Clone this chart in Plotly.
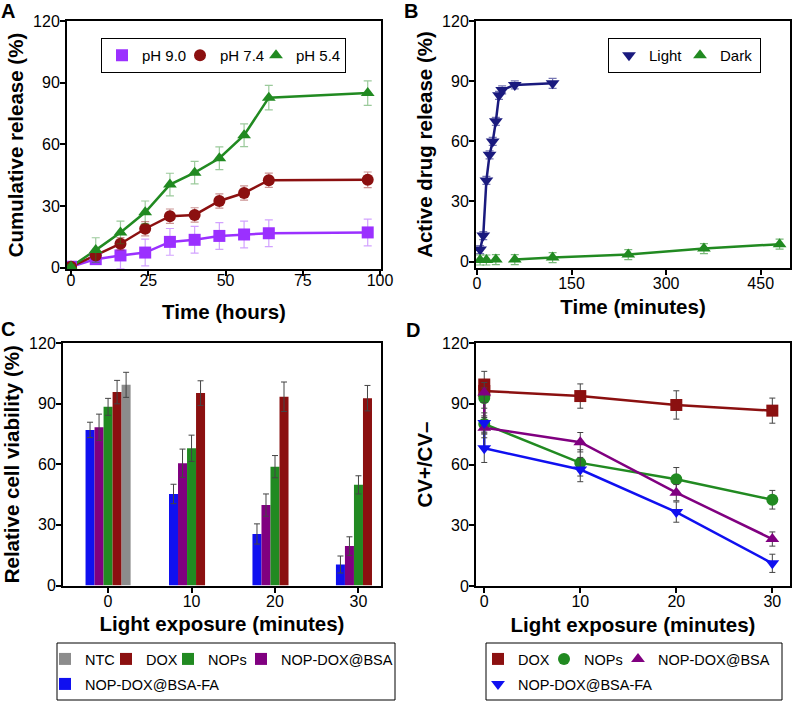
import plotly.graph_objects as go

# ---------------- Data ----------------
# Panel A
time_h = [0, 8, 16, 24, 32, 40, 48, 56, 64, 96]
ph90 = [0.5, 4.2, 6.0, 7.4, 12.6, 13.6, 15.5, 16.2, 16.8, 17.2]
ph90_err = [0.5, 2.0, 6.5, 6.5, 6.5, 6.5, 6.5, 6.5, 6.5, 6.5]
ph74 = [0.5, 6.0, 11.7, 19.0, 25.1, 25.7, 32.5, 36.4, 42.6, 42.8]
ph74_err = [0.5, 2.0, 3.0, 3.5, 3.5, 3.5, 3.5, 3.5, 3.5, 3.8]
ph54 = [0.5, 8.6, 17.2, 27.0, 40.5, 46.3, 53.3, 64.5, 82.8, 85.0]
ph54_err = [1.0, 6.0, 5.5, 5.5, 5.5, 5.5, 5.5, 5.5, 6.0, 6.0]

# Panel B
light_t = [5, 10, 15, 20, 25, 30, 35, 40, 60, 120]
light_v = [6.0, 13.0, 40.5, 53.3, 60.0, 70.0, 83.0, 85.7, 88.2, 89.0]
light_err = [2, 2, 2, 2, 2, 2, 2, 2, 2, 2.5]
dark_t = [5, 15, 30, 60, 120, 240, 360, 480]
dark_v = [0.8, 0.8, 1.0, 1.0, 2.0, 3.5, 6.5, 8.7]
dark_err = [2.5, 2.5, 2.5, 2.5, 2.5, 2.5, 2.5, 2.5]

# Panel C
expo_cat = ["0", "10", "20", "30"]
c_fa = [77.0, 45.3, 25.5, 10.4]
c_fa_err = [3.8, 4.8, 5.0, 4.2]
c_bsa = [78.3, 60.5, 39.8, 19.5]
c_bsa_err = [6.5, 7.0, 5.5, 4.6]
c_nops = [88.4, 67.9, 58.8, 49.8]
c_nops_err = [4.2, 6.5, 5.5, 4.5]
c_dox = [95.7, 95.2, 93.4, 92.7]
c_dox_err = [5.8, 6.1, 7.3, 6.3]
c_ntc = [99.3, None, None, None]
c_ntc_err = [6.2, 0, 0, 0]

# Panel D
d_x = [0, 0, 10, 20, 30]
d_dox = [99.5, 96.3, 93.8, 89.4, 86.6]
d_dox_err = [6.5, 3.0, 6.0, 7.0, 6.2]
d_nops = [92.8, 80.0, 60.8, 52.7, 42.6]
d_nops_err = [5.0, 4.0, 6.5, 5.8, 4.6]
d_bsa = [95.5, 78.2, 71.0, 46.1, 23.2]
d_bsa_err = [5.0, 5.0, 4.8, 4.0, 3.5]
d_fa = [80.5, 68.0, 57.5, 36.5, 11.2]
d_fa_err = [5.0, 7.0, 6.0, 5.0, 4.5]

# ---------------- Styles ----------------
FONT = "Liberation Sans, Arial, sans-serif"
W, H = 794, 701

PURPLE_A = "#9B30FF"
RED = "#8B1010"
GREEN = "#218A21"
NAVY = "#1A1A7E"
BLUE = "#1010F0"
PURPLE = "#800080"
GRAY = "#8C8C8C"
ERR_DARK = "#444444"


def px2x(p):
    return p / W


def px2y(p):
    return 1 - p / H


fig = go.Figure()


def err(vals, color, thick=1.1, width=3):
    return dict(type="data", array=vals, visible=True, color=color,
                thickness=thick, width=width)


# ---- Panel A ----
seriesA = [
    ("pH 9.0", ph90, ph90_err, PURPLE_A, "square", "rgba(155,48,255,0.45)", 33),
    ("pH 7.4", ph74, ph74_err, RED, "circle", "rgba(139,16,16,0.45)", 31),
    ("pH 5.4", ph54, ph54_err, GREEN, "triangle-up", "rgba(33,138,33,0.45)", 44),
]
for name, vals, e, col, sym, ecol, lw in seriesA:
    fig.add_trace(go.Scatter(x=time_h, y=vals, mode="lines", line=dict(color=col, width=2.5),
                             showlegend=False, xaxis="x", yaxis="y", hoverinfo="skip"))
for name, vals, e, col, sym, ecol, lw in seriesA:
    fig.add_trace(go.Scatter(x=time_h, y=vals, mode="markers", name=name,
                             marker=dict(color=col, symbol=sym, size=12),
                             error_y=err(e, ecol, 1.2, 4), legendwidth=lw,
                             xaxis="x", yaxis="y", legend="legend"))

# ---- Panel B ----
fig.add_trace(go.Scatter(x=light_t, y=light_v, mode="lines", line=dict(color=NAVY, width=2.5),
                         showlegend=False, xaxis="x2", yaxis="y2", hoverinfo="skip"))
fig.add_trace(go.Scatter(x=dark_t[3:], y=dark_v[3:], mode="lines", line=dict(color=GREEN, width=2.5),
                         showlegend=False, xaxis="x2", yaxis="y2", hoverinfo="skip"))
fig.add_trace(go.Scatter(x=light_t, y=light_v, mode="markers", name="Light",
                         marker=dict(color=NAVY, symbol="triangle-down", size=12),
                         error_y=err(light_err, "rgba(26,26,126,0.6)", 1.2, 4), legendwidth=26,
                         xaxis="x2", yaxis="y2", legend="legend2"))
fig.add_trace(go.Scatter(x=dark_t, y=dark_v, mode="markers", name="Dark",
                         marker=dict(color=GREEN, symbol="triangle-up", size=12),
                         error_y=err(dark_err, "rgba(33,138,33,0.6)", 1.2, 4), legendwidth=35,
                         xaxis="x2", yaxis="y2", legend="legend2"))

# ---- Panel C ---- (bar order inside group: FA, BSA, NOPs, DOX, NTC)
barsC = [
    ("NOP-DOX@BSA-FA", c_fa, c_fa_err, BLUE, "legend5", 5, 145),
    ("NOP-DOX@BSA", c_bsa, c_bsa_err, PURPLE, "legend3", 4, 112),
    ("NOPs", c_nops, c_nops_err, GREEN, "legend3", 3, 28),
    ("DOX", c_dox, c_dox_err, RED, "legend3", 2, 17),
    ("NTC", c_ntc, c_ntc_err, GRAY, "legend3", 1, 16),
]
for name, vals, e, col, lg, rank, lw in barsC:
    fig.add_trace(go.Bar(x=expo_cat, y=vals, name=name, marker=dict(color=col, line=dict(width=0)),
                         error_y=err(e, ERR_DARK, 1, 3), legendwidth=lw,
                         xaxis="x3", yaxis="y3", legend=lg, legendrank=rank))

# ---- Panel D ----
seriesD = [
    ("DOX", d_dox, d_dox_err, RED, "square", "legend4", 21),
    ("NOPs", d_nops, d_nops_err, GREEN, "circle", "legend4", 29),
    ("NOP-DOX@BSA", d_bsa, d_bsa_err, PURPLE, "triangle-up", "legend4", 112),
    ("NOP-DOX@BSA-FA", d_fa, d_fa_err, BLUE, "triangle-down", "legend6", 145),
]
for name, vals, e, col, sym, lg, lw in seriesD:
    fig.add_trace(go.Scatter(x=d_x, y=vals, mode="lines", line=dict(color=col, width=2.5),
                             showlegend=False, xaxis="x4", yaxis="y4", hoverinfo="skip"))
for name, vals, e, col, sym, lg, lw in seriesD:
    fig.add_trace(go.Scatter(x=d_x, y=vals, mode="markers", name=name,
                             marker=dict(color=col, symbol=sym, size=12),
                             error_y=err(e, ERR_DARK, 1, 3), legendwidth=lw,
                             xaxis="x4", yaxis="y4", legend=lg))

# ---------------- Axes ----------------
tickfont = dict(family=FONT, size=16, color="black")
titlefont = dict(family=FONT, size=20.5, color="black")


def xaxis(domain, rng, title, anchor, lblstand=-5, tstand=8, **kw):
    d = dict(domain=domain, range=rng, anchor=anchor, showgrid=False, zeroline=False,
             showline=True, linewidth=2, linecolor="black", mirror=True,
             ticks="outside", ticklen=5, tickwidth=1.5, tickcolor="black",
             ticklabelstandoff=lblstand,
             tickfont=tickfont, title=dict(text="<b>%s</b>" % title, font=titlefont, standoff=tstand))
    d.update(kw)
    return d


def yaxis(domain, rng, title, anchor, **kw):
    d = dict(domain=domain, range=rng, anchor=anchor, showgrid=False, zeroline=False,
             showline=True, linewidth=2, linecolor="black", mirror=True,
             ticks="outside", ticklen=5, tickwidth=1.5, tickcolor="black",
             ticklabelstandoff=-3,
             tickvals=[0, 30, 60, 90, 120],
             tickfont=tickfont, title=dict(text="<b>%s</b>" % title, font=titlefont, standoff=4))
    d.update(kw)
    return d


fig.update_layout(
    xaxis=xaxis([px2x(67), px2x(381)], [-1.3, 100.3], "Time (hours)", "y",
                lblstand=-9, tstand=16, tickvals=[0, 25, 50, 75, 100]),
    yaxis=yaxis([px2y(269), px2y(21)], [-0.6, 120.1], "Cumulative release (%)", "x"),
    xaxis2=xaxis([px2x(476), px2x(790)], [-1.5, 496.5], "Time (minutes)", "y2",
                 tickvals=[0, 150, 300, 450]),
    yaxis2=yaxis([px2y(268), px2y(21)], [-3.2, 120.1], "Active drug release (%)", "x2"),
    xaxis3=xaxis([px2x(63), px2x(381)], [-0.54, 3.27], "Light exposure (minutes)", "y3",
                 type="category"),
    yaxis3=yaxis([px2y(585.5), px2y(343)], [0, 120], "Relative cell viability (%)", "x3"),
    xaxis4=xaxis([px2x(476), px2x(790)], [-0.86, 31.84], "Light exposure (minutes)", "y4",
                 tickvals=[0, 10, 20, 30]),
    yaxis4=yaxis([px2y(586), px2y(343)], [0, 120], "CV+/CV\u2013", "x4"),
    barmode="group",
    bargap=0.46,
    width=W, height=H,
    margin=dict(l=0, r=0, t=0, b=0, autoexpand=False),
    paper_bgcolor="white", plot_bgcolor="white",
    font=dict(family=FONT, color="black"),
)

legfont = dict(family=FONT, size=15, color="black")
legfont2 = dict(family=FONT, size=14.5, color="black")
common = dict(orientation="h", xanchor="left", yanchor="top", font=legfont,
              itemwidth=30, itemclick=False, itemdoubleclick=False, traceorder="normal")
fig.update_layout(
    legend=dict(common, x=px2x(101), y=px2y(38), bordercolor="black", borderwidth=1, bgcolor="white"),
    legend2=dict(common, x=px2x(608), y=px2y(38), bordercolor="black", borderwidth=1, bgcolor="white"),
    legend3=dict(common, x=px2x(45), y=px2y(643), borderwidth=0, bgcolor="rgba(0,0,0,0)", font=legfont2),
    legend5=dict(common, x=px2x(45), y=px2y(668), borderwidth=0, bgcolor="rgba(0,0,0,0)", font=legfont2),
    legend4=dict(common, x=px2x(478), y=px2y(643), borderwidth=0, bgcolor="rgba(0,0,0,0)", font=legfont2),
    legend6=dict(common, x=px2x(478), y=px2y(668), borderwidth=0, bgcolor="rgba(0,0,0,0)", font=legfont2),
)

# legend frames for the two-row legends
fig.add_shape(type="rect", xref="paper", yref="paper", x0=px2x(57), x1=px2x(395),
              y0=px2y(700), y1=px2y(643), line=dict(color="black", width=1), layer="below")
fig.add_shape(type="rect", xref="paper", yref="paper", x0=px2x(486), x1=px2x(782),
              y0=px2y(700), y1=px2y(643), line=dict(color="black", width=1), layer="below")

# panel letters
for letter, xp, yp in [("A", -1, -2), ("B", 402, -2), ("C", -1, 316), ("D", 404, 317)]:
    fig.add_annotation(text="<b>%s</b>" % letter, x=px2x(xp), y=px2y(yp), xref="paper", yref="paper",
                       xanchor="left", yanchor="top", showarrow=False,
                       font=dict(family=FONT, size=20, color="black"))

fig.write_html("out.html", config={"displayModeBar": False},
               post_script="document.body.style.margin='0px';")
